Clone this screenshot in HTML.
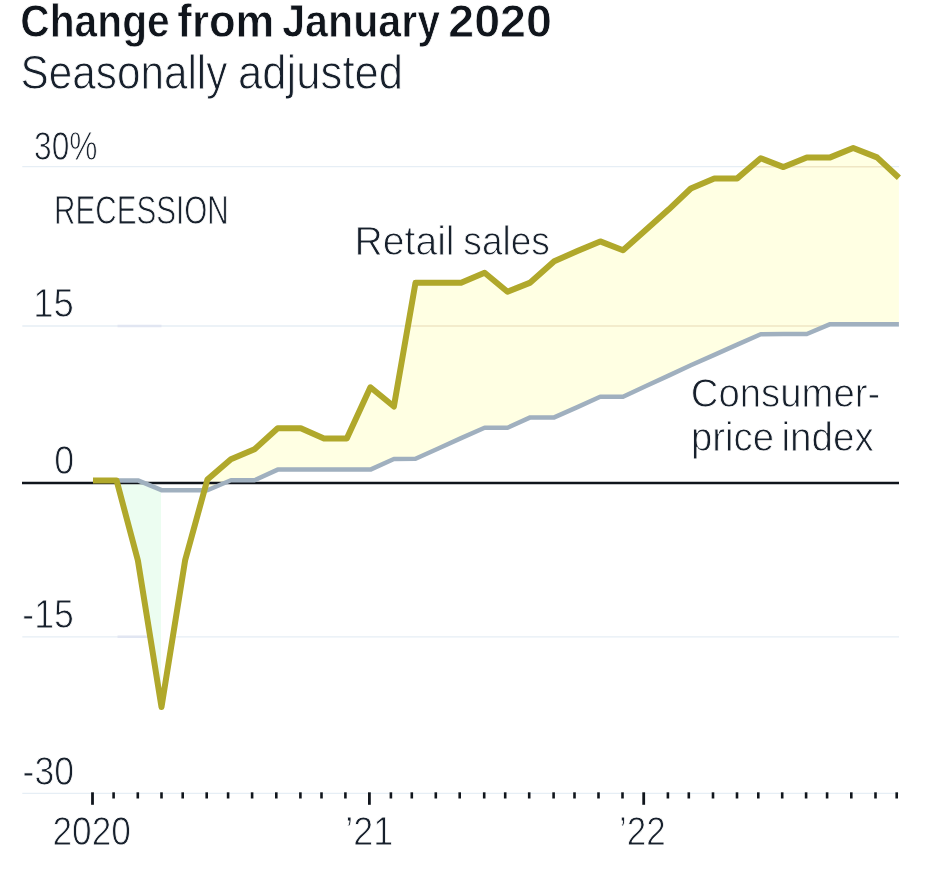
<!DOCTYPE html>
<html lang="en"><head><meta charset="utf-8"><title>Change from January 2020</title>
<style>
html,body{margin:0;padding:0;background:#fff;}
body{width:951px;height:874px;overflow:hidden;font-family:"Liberation Sans",sans-serif;}
svg{display:block}
text{font-family:"Liberation Sans",sans-serif;fill:#17202c;stroke:#fff;stroke-width:0.9px;paint-order:fill stroke;stroke-linejoin:round;}
text.b{stroke-width:0.8px;}
</style></head><body>
<svg width="951" height="874" viewBox="0 0 951 874">
<rect width="951" height="874" fill="#fff"/>
<defs><clipPath id="between"><polygon points="93.0,480.6 116.6,480.6 137.9,560.4 161.5,707.0 185.1,560.4 207.4,479.5 230.9,459.3 254.5,449.3 277.7,428.3 300.8,428.3 324.0,438.6 346.8,438.6 370.4,387.3 393.9,406.5 415.5,282.7 438.3,282.7 461.1,282.7 484.6,272.8 507.5,291.8 530.3,282.6 554.2,261.3 577.4,251.0 600.2,241.4 623.0,250.3 646.0,229.7 668.6,209.6 690.8,188.5 714.3,178.4 737.2,178.4 760.7,158.2 783.5,167.1 806.8,157.4 830.2,157.4 853.2,148.0 877.0,157.4 898.9,177.7 898.9,324.2 877.0,324.2 853.2,324.2 830.2,324.2 806.8,334.0 783.5,334.1 760.7,334.2 737.2,344.6 714.3,354.9 690.8,365.3 668.6,375.6 646.0,386.0 623.0,396.8 600.2,396.8 577.4,407.1 554.2,417.4 530.3,417.4 507.5,427.8 484.6,427.8 461.1,438.1 438.3,448.5 415.5,458.8 393.9,459.0 370.4,469.6 346.8,469.6 324.0,469.6 300.8,469.6 277.7,469.6 254.5,480.3 230.9,480.3 207.4,490.2 185.1,490.2 161.5,490.2 137.9,480.4 116.6,480.4 93.0,480.4"/></clipPath></defs>
<!-- gridlines -->
<g stroke="#e6eef5" stroke-width="1.3">
<line x1="22.3" y1="166.7" x2="899" y2="166.7"/>
<line x1="22.3" y1="326" x2="899" y2="326"/>
<line x1="22.3" y1="636.8" x2="899" y2="636.8"/>
<line x1="22.3" y1="793.3" x2="899" y2="793.3"/>
</g>
<g stroke="#e1e6f2" stroke-width="2.6">
<line x1="117.5" y1="326" x2="161.5" y2="326"/>
<line x1="117.5" y1="636.8" x2="161.5" y2="636.8"/>
</g>
<!-- fill between -->
<polygon points="93.0,480.6 116.6,480.6 137.9,560.4 161.5,707.0 185.1,560.4 207.4,479.5 230.9,459.3 254.5,449.3 277.7,428.3 300.8,428.3 324.0,438.6 346.8,438.6 370.4,387.3 393.9,406.5 415.5,282.7 438.3,282.7 461.1,282.7 484.6,272.8 507.5,291.8 530.3,282.6 554.2,261.3 577.4,251.0 600.2,241.4 623.0,250.3 646.0,229.7 668.6,209.6 690.8,188.5 714.3,178.4 737.2,178.4 760.7,158.2 783.5,167.1 806.8,157.4 830.2,157.4 853.2,148.0 877.0,157.4 898.9,177.7 898.9,324.2 877.0,324.2 853.2,324.2 830.2,324.2 806.8,334.0 783.5,334.1 760.7,334.2 737.2,344.6 714.3,354.9 690.8,365.3 668.6,375.6 646.0,386.0 623.0,396.8 600.2,396.8 577.4,407.1 554.2,417.4 530.3,417.4 507.5,427.8 484.6,427.8 461.1,438.1 438.3,448.5 415.5,458.8 393.9,459.0 370.4,469.6 346.8,469.6 324.0,469.6 300.8,469.6 277.7,469.6 254.5,480.3 230.9,480.3 207.4,490.2 185.1,490.2 161.5,490.2 137.9,480.4 116.6,480.4 93.0,480.4" fill="#ffffe3"/>
<g clip-path="url(#between)">
<rect x="92" y="482" width="116" height="240" fill="#ffffff"/>
<rect x="117.5" y="482" width="43.5" height="240" fill="#ecfdf1"/>
<line x1="22" y1="166.7" x2="899" y2="166.7" stroke="#efe6c4" stroke-width="1.5"/>
<line x1="22" y1="326" x2="899" y2="326" stroke="#efe6c4" stroke-width="1.5"/>
</g>
<!-- zero line -->
<line x1="22" y1="483" x2="899" y2="483" stroke="#10151c" stroke-width="2.6"/>
<!-- series -->
<polyline points="93.0,480.4 116.6,480.4 137.9,480.4 161.5,490.2 185.1,490.2 207.4,490.2 230.9,480.3 254.5,480.3 277.7,469.6 300.8,469.6 324.0,469.6 346.8,469.6 370.4,469.6 393.9,459.0 415.5,458.8 438.3,448.5 461.1,438.1 484.6,427.8 507.5,427.8 530.3,417.4 554.2,417.4 577.4,407.1 600.2,396.8 623.0,396.8 646.0,386.0 668.6,375.6 690.8,365.3 714.3,354.9 737.2,344.6 760.7,334.2 783.5,334.1 806.8,334.0 830.2,324.2 853.2,324.2 877.0,324.2 898.9,324.2" fill="none" stroke="#a0b0bf" stroke-width="4.5" stroke-linejoin="round"/>
<polyline points="93.0,480.6 116.6,480.6 137.9,560.4 161.5,707.0 185.1,560.4 207.4,479.5 230.9,459.3 254.5,449.3 277.7,428.3 300.8,428.3 324.0,438.6 346.8,438.6 370.4,387.3 393.9,406.5 415.5,282.7 438.3,282.7 461.1,282.7 484.6,272.8 507.5,291.8 530.3,282.6 554.2,261.3 577.4,251.0 600.2,241.4 623.0,250.3 646.0,229.7 668.6,209.6 690.8,188.5 714.3,178.4 737.2,178.4 760.7,158.2 783.5,167.1 806.8,157.4 830.2,157.4 853.2,148.0 877.0,157.4 898.9,177.7" fill="none" stroke="#b0a82b" stroke-width="6" stroke-linejoin="round"/>
<!-- ticks -->
<line x1="92.5" y1="792.3" x2="92.5" y2="804.8" stroke="#10151c" stroke-width="2.8"/><line x1="113.6" y1="792.3" x2="113.6" y2="798.5" stroke="#10151c" stroke-width="2.6"/><line x1="137.8" y1="792.3" x2="137.8" y2="798.5" stroke="#10151c" stroke-width="2.6"/><line x1="161.5" y1="792.3" x2="161.5" y2="798.5" stroke="#10151c" stroke-width="2.6"/><line x1="182.7" y1="792.3" x2="182.7" y2="798.5" stroke="#10151c" stroke-width="2.6"/><line x1="206.7" y1="792.3" x2="206.7" y2="798.5" stroke="#10151c" stroke-width="2.6"/><line x1="228.1" y1="792.3" x2="228.1" y2="798.5" stroke="#10151c" stroke-width="2.6"/><line x1="252.1" y1="792.3" x2="252.1" y2="798.5" stroke="#10151c" stroke-width="2.6"/><line x1="276.3" y1="792.3" x2="276.3" y2="798.5" stroke="#10151c" stroke-width="2.6"/><line x1="300.4" y1="792.3" x2="300.4" y2="798.5" stroke="#10151c" stroke-width="2.6"/><line x1="321.5" y1="792.3" x2="321.5" y2="798.5" stroke="#10151c" stroke-width="2.6"/><line x1="345.4" y1="792.3" x2="345.4" y2="798.5" stroke="#10151c" stroke-width="2.6"/><line x1="369.4" y1="792.3" x2="369.4" y2="804.8" stroke="#10151c" stroke-width="2.8"/><line x1="390.9" y1="792.3" x2="390.9" y2="798.5" stroke="#10151c" stroke-width="2.6"/><line x1="411.8" y1="792.3" x2="411.8" y2="798.5" stroke="#10151c" stroke-width="2.6"/><line x1="435.8" y1="792.3" x2="435.8" y2="798.5" stroke="#10151c" stroke-width="2.6"/><line x1="459.7" y1="792.3" x2="459.7" y2="798.5" stroke="#10151c" stroke-width="2.6"/><line x1="484.2" y1="792.3" x2="484.2" y2="798.5" stroke="#10151c" stroke-width="2.6"/><line x1="505.2" y1="792.3" x2="505.2" y2="798.5" stroke="#10151c" stroke-width="2.6"/><line x1="529.2" y1="792.3" x2="529.2" y2="798.5" stroke="#10151c" stroke-width="2.6"/><line x1="553.6" y1="792.3" x2="553.6" y2="798.5" stroke="#10151c" stroke-width="2.6"/><line x1="574.5" y1="792.3" x2="574.5" y2="798.5" stroke="#10151c" stroke-width="2.6"/><line x1="598.5" y1="792.3" x2="598.5" y2="798.5" stroke="#10151c" stroke-width="2.6"/><line x1="622.5" y1="792.3" x2="622.5" y2="798.5" stroke="#10151c" stroke-width="2.6"/><line x1="643.7" y1="792.3" x2="643.7" y2="804.8" stroke="#10151c" stroke-width="2.8"/><line x1="667.9" y1="792.3" x2="667.9" y2="798.5" stroke="#10151c" stroke-width="2.6"/><line x1="688.8" y1="792.3" x2="688.8" y2="798.5" stroke="#10151c" stroke-width="2.6"/><line x1="713.0" y1="792.3" x2="713.0" y2="798.5" stroke="#10151c" stroke-width="2.6"/><line x1="737.0" y1="792.3" x2="737.0" y2="798.5" stroke="#10151c" stroke-width="2.6"/><line x1="758.3" y1="792.3" x2="758.3" y2="798.5" stroke="#10151c" stroke-width="2.6"/><line x1="782.2" y1="792.3" x2="782.2" y2="798.5" stroke="#10151c" stroke-width="2.6"/><line x1="806.1" y1="792.3" x2="806.1" y2="798.5" stroke="#10151c" stroke-width="2.6"/><line x1="827.1" y1="792.3" x2="827.1" y2="798.5" stroke="#10151c" stroke-width="2.6"/><line x1="851.3" y1="792.3" x2="851.3" y2="798.5" stroke="#10151c" stroke-width="2.6"/><line x1="875.5" y1="792.3" x2="875.5" y2="798.5" stroke="#10151c" stroke-width="2.6"/><line x1="896.7" y1="792.3" x2="896.7" y2="798.5" stroke="#10151c" stroke-width="2.6"/>
<!-- text -->
<text class="b" font-weight="700" style="fill:#10151c"><tspan x="20.23" y="37.10" font-size="46.54" textLength="149.56" lengthAdjust="spacingAndGlyphs">Change</tspan> <tspan x="177.36" y="37.10" font-size="46.54" textLength="97.01" lengthAdjust="spacingAndGlyphs">from</tspan> <tspan x="282.18" y="37.10" font-size="46.54" textLength="158.04" lengthAdjust="spacingAndGlyphs">January</tspan> <tspan x="448.22" y="37.10" font-size="46.54" textLength="103.68" lengthAdjust="spacingAndGlyphs">2020</tspan></text>
<text><tspan x="20.55" y="88.75" font-size="47.17" textLength="206.79" lengthAdjust="spacingAndGlyphs">Seasonally</tspan> <tspan x="238.12" y="88.75" font-size="47.17" textLength="164.91" lengthAdjust="spacingAndGlyphs">adjusted</tspan></text>
<text x="34.05" y="159.95" font-size="41.47" textLength="63.43" lengthAdjust="spacingAndGlyphs">30%</text>
<text x="33.17" y="316.95" font-size="41.47" textLength="40.69" lengthAdjust="spacingAndGlyphs">15</text>
<text x="54.26" y="474.15" font-size="41.47" textLength="19.85" lengthAdjust="spacingAndGlyphs">0</text>
<text x="22.28" y="628.15" font-size="41.47" textLength="51.54" lengthAdjust="spacingAndGlyphs">-15</text>
<text x="22.59" y="785.15" font-size="41.47" textLength="51.32" lengthAdjust="spacingAndGlyphs">-30</text>
<text x="54.12" y="223.95" font-size="41.37" textLength="174.64" lengthAdjust="spacingAndGlyphs">RECESSION</text>
<text><tspan x="354.54" y="254.65" font-size="40.87" textLength="100.02" lengthAdjust="spacingAndGlyphs">Retail</tspan> <tspan x="463.35" y="254.65" font-size="40.87" textLength="86.55" lengthAdjust="spacingAndGlyphs">sales</tspan></text>
<text><tspan x="690.83" y="407.15" font-size="40.77" textLength="189.50" lengthAdjust="spacingAndGlyphs">Consumer-</tspan><tspan x="691.00" y="451.15" font-size="40.77" textLength="82.95" lengthAdjust="spacingAndGlyphs">price</tspan> <tspan x="781.50" y="451.15" font-size="40.77" textLength="92.32" lengthAdjust="spacingAndGlyphs">index</tspan></text>
<text x="52.49" y="845.25" font-size="41.47" textLength="78.42" lengthAdjust="spacingAndGlyphs">2020</text>
<text x="345.32" y="845.25" font-size="41.47" textLength="47.97" lengthAdjust="spacingAndGlyphs">’21</text>
<text x="619.08" y="845.25" font-size="41.47" textLength="46.74" lengthAdjust="spacingAndGlyphs">’22</text>
</svg>
</body></html>
